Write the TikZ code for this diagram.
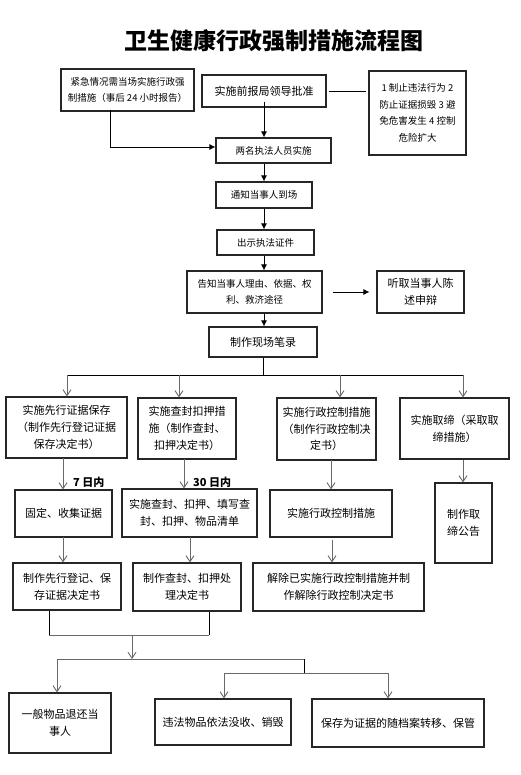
\documentclass[tikz,border=0pt]{standalone}
\usepackage{fontspec}
\setmainfont{Noto Sans CJK SC}
\usetikzlibrary{arrows.meta}
\definecolor{lgray}{RGB}{105,105,105}
\tikzset{
  box/.style={draw=black!85, line width=1.1pt, inner sep=0pt, align=center, font=\fontsize{11}{16.7}\selectfont},
  sbox/.style={box, font=\fontsize{9.5}{16.7}\selectfont},
  barrow/.style={draw=black, line width=0.9pt, -{Latex[length=6pt,width=6pt]}},
  bline/.style={draw=black, line width=0.9pt},
  garrow/.style={draw=lgray, line width=0.9pt, -{Straight Barb[length=6pt,width=8pt]}},
  gline/.style={draw=lgray, line width=0.9pt},
  lbl/.style={font=\fontsize{11}{13}\selectfont\bfseries, inner sep=0pt, anchor=west}
}
\begin{document}
\begin{tikzpicture}[x=1pt,y=-1pt]
\useasboundingbox[fill=white] (0,0) rectangle (520,775);
\node[font=\fontsize{23}{26}\selectfont\bfseries] (title) at (274,41) {卫生健康行政强制措施流程图};

% top section
\node[sbox, minimum width=133pt, minimum height=42pt] (A) at (127.5,90) {紧急情况需当场实施行政强\\制措施（事后 24 小时报告）};
\node[box, minimum width=124pt, minimum height=32pt] (B) at (264,91) {实施前报局领导批准};
\node[sbox, minimum width=97pt, minimum height=84pt] (C) at (417.5,113) {1 制止违法行为 2\\防止证据损毁 3 避\\免危害发生 4 控制\\危险扩大};
\node[sbox, minimum width=115pt, minimum height=25pt] (D) at (273.5,150.5) {两名执法人员实施};
\node[sbox, minimum width=96pt, minimum height=26pt] (E) at (264,195) {通知当事人到场};
\node[sbox, minimum width=97pt, minimum height=25pt] (F) at (265.5,242.5) {出示执法证件};
\node[sbox, minimum width=135pt, minimum height=42pt] (G) at (254.5,292) {告知当事人理由、依据、权\\利、救济途径};
\node[box, minimum width=87pt, minimum height=42pt] (H) at (420.5,292) {听取当事人陈\\述申辩};
\node[box, minimum width=108pt, minimum height=30pt] (I) at (263,342) {制作现场笔录};

\draw[bline] ([xshift=2pt]B.east) -- ([xshift=-2pt]C.west |- B.east);
\draw[barrow] ([yshift=6pt]B.south) -- (B.south |- D.north);
\coordinate (a1) at (110,147);
\draw[barrow] ([yshift=2pt]A.south -| a1) -- (a1) -- (a1 -| D.west);
\draw[barrow] (E.north |- D.south) -- (E.north);
\draw[barrow] (E.south) -- (E.south |- F.north);
\draw[barrow] (E.south |- F.south) -- (E.south |- G.north);
\draw[barrow] (E.south |- G.south) -- (E.south |- I.north);
\draw[barrow] ([xshift=10pt]G.east) -- ([xshift=-7pt]H.west);

% middle section
\node[box, minimum width=121pt, minimum height=61pt] (J1) at (66.5,427.5) {实施先行证据保存\\（制作先行登记证据\\保存决定书）};
\node[box, minimum width=98pt, minimum height=61pt] (J2) at (187,428.5) {实施查封扣押措\\施（制作查封、\\扣押决定书）};
\node[box, minimum width=99pt, minimum height=62pt] (J3) at (326.5,429) {实施行政控制措施\\（制作行政控制决\\定书）};
\node[box, minimum width=109pt, minimum height=61pt] (J4) at (454.5,428.5) {实施取缔（采取取\\缔措施）};

\coordinate (bL) at (67,375);
\coordinate (t2) at (179,375);
\coordinate (t3) at (340,375);
\coordinate (bR) at (463,375);
\draw[bline] (I.south) -- (I.south |- bL);
\draw[bline] (bL) -- (bR);
\draw[garrow] (bL) -- (bL |- J1.north);
\draw[garrow] (t2) -- (t2 |- J2.north);
\draw[garrow] (t3) -- (t3 |- J3.north);
\draw[garrow] (bR) -- (bR |- J4.north);

\node[box, minimum width=97pt, minimum height=47pt] (K1) at (63.5,513.5) {固定、收集证据};
\node[box, minimum width=135pt, minimum height=48pt] (K2) at (189.5,513) {实施查封、扣押、填写查\\封、扣押、物品清单};
\node[box, minimum width=122pt, minimum height=47pt] (K3) at (331,513.5) {实施行政控制措施};
\node[box, minimum width=57pt, minimum height=80pt] (K4) at (463.5,523) {制作取\\缔公告};

\coordinate (k1) at (63,458);
\coordinate (k2) at (184,459);
\coordinate (k3) at (331,460);
\draw[garrow] (k1) -- (k1 |- K1.north);
\draw[garrow] (k2) -- (k2 |- K2.north);
\draw[garrow] (k3) -- (k3 |- K3.north);
\draw[garrow] (J4.south -| bR) -- (bR |- K4.north);
\node[lbl] (d7) at (73,482) {7 日内};
\node[lbl] (d30) at (193,482) {30 日内};

\node[box, minimum width=108pt, minimum height=47pt] (L1) at (67,586.5) {制作先行登记、保\\存证据决定书};
\node[box, minimum width=108pt, minimum height=48pt] (L2) at (187,587) {制作查封、扣押处\\理决定书};
\node[box, minimum width=171pt, minimum height=48pt] (L3) at (338.5,587) {解除已实施行政控制措施并制\\作解除行政控制决定书};

\coordinate (m1) at (63,537);
\coordinate (m2) at (190,537);
\coordinate (m3) at (332,540);
\draw[garrow] (m1) -- (m1 |- L1.north);
\draw[garrow] (m2) -- (m2 |- L2.north);
\draw[garrow] (m3) -- (m3 |- L3.north);

% bottom section
\node[box, minimum width=102pt, minimum height=60pt] (M1) at (60,723) {一般物品退还当\\事人};
\node[box, minimum width=136pt, minimum height=46pt] (M2) at (223,722) {违法物品依法没收、销毁};
\node[box, minimum width=172pt, minimum height=48pt] (M3) at (398,723) {保存为证据的随档案转移、保管};

\coordinate (n1) at (49,635);
\coordinate (n2) at (209,635);
\coordinate (n3) at (132,635);
\coordinate (p1) at (57,659);
\coordinate (p2) at (304,659);
\coordinate (q1) at (224,673);
\coordinate (q2) at (388,673);
\draw[bline] (n1 |- L1.south) -- (n1);
\draw[bline] (n2 |- L2.south) -- (n2);
\draw[gline] (n1) -- (n2);
\draw[garrow] (n3) -- (n3 |- p1);
\draw[gline] (p1) -- (p2);
\draw[garrow] (p1) -- (p1 |- M1.north);
\draw[bline] (p2) -- (p2 |- q1);
\draw[gline] (q1) -- (q2);
\draw[garrow] (q1) -- (q1 |- M2.north);
\draw[garrow] (q2) -- (q2 |- M3.north);
\end{tikzpicture}
\end{document}
